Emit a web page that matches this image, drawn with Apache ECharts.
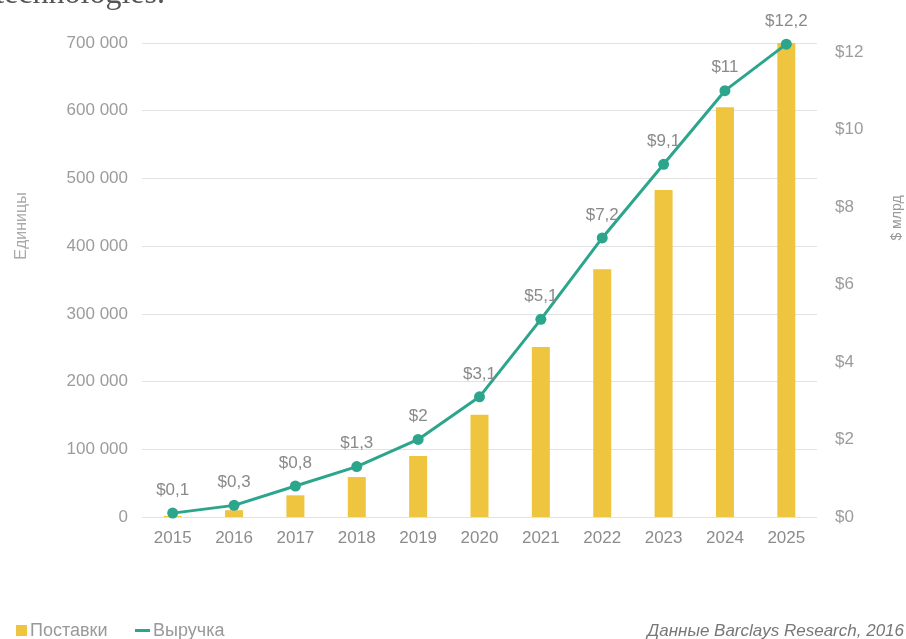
<!DOCTYPE html>
<html>
<head>
<meta charset="utf-8">
<script src="https://cdn.jsdelivr.net/npm/echarts@6/dist/echarts.min.js"></script>
<style>html,body{margin:0;padding:0;background:#fff}#c{width:906px;height:639px}</style>
</head>
<body>
<div id="c"></div>
<script>
const years = ['2015','2016','2017','2018','2019','2020','2021','2022','2023','2024','2025'];
const shipments = [1500, 10000, 32000, 59000, 90000, 151000, 251000, 366000, 483000, 605000, 700000];
const revenue = [0.1, 0.3, 0.8, 1.3, 2, 3.1, 5.1, 7.2, 9.1, 11, 12.2];
const leftTicks = [0, 100000, 200000, 300000, 400000, 500000, 600000, 700000];
const rightTicks = [0, 2, 4, 6, 8, 10, 12];

const FONT = 'Liberation Sans';
const chart = echarts.init(document.getElementById('c'));
function spaced(v){ return String(v).replace(/\B(?=(\d{3})+(?!\d))/g, ' '); }
chart.setOption({
  animation: false,
  grid: { left: 142, right: 89, top: 43, bottom: 122 },
  xAxis: {
    type: 'category', data: years,
    axisLine: { show: false }, axisTick: { show: false },
    axisLabel: { color: '#8c8c8c', fontSize: 17, fontFamily: FONT, margin: 13 }
  },
  yAxis: [{
    type: 'value', min: leftTicks[0], max: leftTicks[leftTicks.length-1], interval: 100000,
    axisLine: { show: false }, axisTick: { show: false },
    splitLine: { lineStyle: { color: '#e2e2e2', width: 1 } },
    axisLabel: { color: '#9c9c9c', fontSize: 17, fontFamily: FONT, margin: 14, formatter: v => spaced(v) }
  }, {
    type: 'value', min: 0, max: 12.23, interval: 2,
    axisLine: { show: false }, axisTick: { show: false }, splitLine: { show: false },
    axisLabel: { color: '#9c9c9c', fontSize: 17, fontFamily: FONT, margin: 18,
      formatter: v => rightTicks.indexOf(v) >= 0 ? '$' + v : '' }
  }],
  series: [{
    name: 'Поставки', type: 'bar', data: shipments, barWidth: 18,
    itemStyle: { color: '#efc53f' }
  }, {
    name: 'Выручка', type: 'line', yAxisIndex: 1, data: revenue,
    symbol: 'circle', symbolSize: 11,
    lineStyle: { color: '#2ca58d', width: 3 },
    itemStyle: { color: '#2ca58d' },
    label: { show: true, position: 'top', distance: 9, color: '#8a8a8a', fontSize: 17, fontFamily: FONT,
      formatter: p => '$' + String(p.value).replace('.', ',') },
    z: 5
  }],
  graphic: [
    { type: 'text', x: 165, y: 11, style: { text: 'technologies.', font: '32px "Liberation Serif"', fill: '#555', align: 'right', verticalAlign: 'bottom' } },
    { type: 'text', x: 22, y: 226, rotation: Math.PI/2, style: { text: 'Единицы', font: '16px "Liberation Sans"', fill: '#aaa', align: 'center', verticalAlign: 'middle' } },
    { type: 'text', x: 897, y: 218, rotation: Math.PI/2, style: { text: '$ млрд', font: '14px "Liberation Sans"', fill: '#999', align: 'center', verticalAlign: 'middle' } },
    { type: 'rect', shape: { x: 16, y: 625, width: 11, height: 11 }, style: { fill: '#efc53f' } },
    { type: 'text', x: 30, y: 631, style: { text: 'Поставки', font: '18px "Liberation Sans"', fill: '#999', verticalAlign: 'middle' } },
    { type: 'rect', shape: { x: 135, y: 629, width: 15, height: 3 }, style: { fill: '#2ca58d' } },
    { type: 'text', x: 153, y: 631, style: { text: 'Выручка', font: '18px "Liberation Sans"', fill: '#999', verticalAlign: 'middle' } },
    { type: 'text', x: 904, y: 631, style: { text: 'Данные Barclays Research, 2016', font: 'italic 17px "Liberation Sans"', fill: '#777', align: 'right', verticalAlign: 'middle' } }
  ]
});
</script>
</body>
</html>
